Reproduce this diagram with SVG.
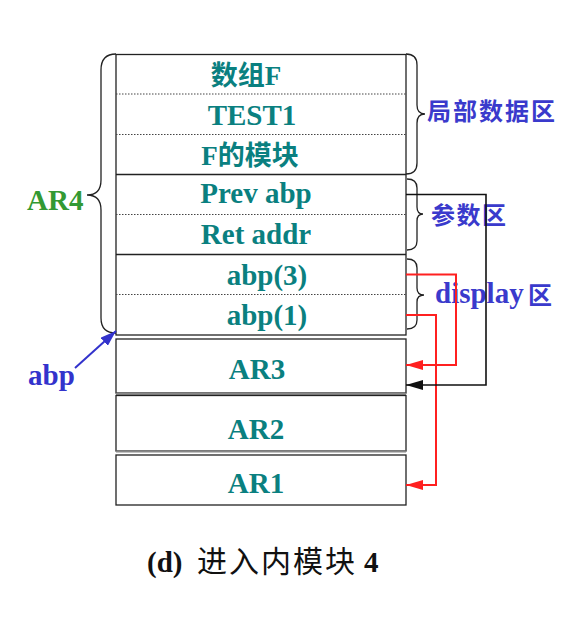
<svg xmlns="http://www.w3.org/2000/svg" width="573" height="627" viewBox="0 0 573 627">
<style>
.cell{fill:#fff;stroke:#222;stroke-width:1.3}
.dot{stroke:#444;stroke-width:1;stroke-dasharray:1.5,1.5;fill:none}
.sep{stroke:#222;stroke-width:1.3}
.t{font-family:"Liberation Serif","Noto Sans CJK SC",serif;font-weight:bold;font-size:29px;fill:#0a8080;text-anchor:middle}
.tc{font-size:27px}
.brace{fill:none;stroke:#222;stroke-width:1.3}
.lbl{font-family:"Noto Sans CJK SC",sans-serif;font-weight:bold;font-size:24px;fill:#3a3acc}
.lat{font-family:"Liberation Serif","Noto Sans CJK SC",serif;font-weight:bold;font-size:29px}
.red{fill:none;stroke:#ff2020;stroke-width:2}
.blk{fill:none;stroke:#111;stroke-width:1.6}
</style>
<defs>
<marker id="ah-red" markerWidth="17" markerHeight="10" refX="17" refY="5" orient="auto" markerUnits="userSpaceOnUse"><path d="M0,0 L17,5 L0,10 Z" fill="#ff2020"/></marker>
<marker id="ah-blk" markerWidth="17" markerHeight="10" refX="17" refY="5" orient="auto" markerUnits="userSpaceOnUse"><path d="M0,0 L17,5 L0,10 Z" fill="#111"/></marker>
<marker id="ah-blue" markerWidth="16" markerHeight="11" refX="16" refY="5.5" orient="auto" markerUnits="userSpaceOnUse"><path d="M0,0 L16,5.5 L0,11 Z" fill="#3333cc"/></marker>
</defs>

<g id="AR4">
<rect class="cell" x="116" y="54.5" width="290" height="280.5"/>
<line class="dot" x1="116" y1="94" x2="406" y2="94"/>
<line class="dot" x1="116" y1="134.5" x2="406" y2="134.5"/>
<line class="sep" x1="116" y1="174.5" x2="406" y2="174.5"/>
<line class="dot" x1="116" y1="214.5" x2="406" y2="214.5"/>
<line class="sep" x1="116" y1="254.5" x2="406" y2="254.5"/>
<line class="dot" x1="116" y1="294.5" x2="406" y2="294.5"/>
<text class="t tc" x="246" y="85">数组F</text>
<text class="t" x="252" y="125">TEST1</text>
<text class="t tc" x="250" y="165">F的模块</text>
<text class="t" x="256" y="203">Prev abp</text>
<text class="t" x="256" y="244">Ret addr</text>
<text class="t" x="267" y="285">abp(3)</text>
<text class="t" x="267" y="325">abp(1)</text>
</g>

<g id="AR3">
<rect class="cell" x="116" y="339" width="290" height="54"/>
<text class="t" x="257" y="379">AR3</text>
</g>
<line x1="116" y1="394" x2="406" y2="394" stroke="#888" stroke-width="2.5"/>
<g id="AR2">
<rect class="cell" x="116" y="395.5" width="290" height="55.5"/>
<text class="t" x="256" y="439">AR2</text>
</g>
<line x1="116" y1="451.5" x2="406" y2="451.5" stroke="#888" stroke-width="2"/>
<g id="AR1">
<rect class="cell" x="116" y="455" width="290" height="50"/>
<text class="t" x="256" y="493">AR1</text>
</g>

<g id="brace-AR4">
<path class="brace" d="M116,54 Q101,54 101,70 L101,180 Q101,195 87,195 Q101,195 101,210 L101,318 Q101,333 116,333"/>
<text class="lat" x="27" y="210" fill="#339933">AR4</text>
</g>

<g id="brace-local">
<path class="brace" d="M406,54 Q417,54 417,65 L417,105 Q417,114 425,114 Q417,114 417,123 L417,163 Q417,174 406,174"/>
<text class="lbl" x="427" y="120" letter-spacing="2">局部数据区</text>
</g>

<g id="brace-param">
<path class="brace" d="M407,179 Q417,179 417,188 L417,207 Q417,214 423,214 Q417,214 417,221 L417,241 Q417,250 407,250"/>
<text class="lbl" x="431" y="224" letter-spacing="1.5">参数区</text>
</g>

<g id="brace-display">
<path class="brace" d="M407,259 Q417,259 417,268 L417,288 Q417,295 424,295 Q417,295 417,302 L417,320 Q417,329 407,329"/>
<text x="435" y="303" fill="#3a3acc"><tspan class="lat">display</tspan><tspan class="lbl" x="528" y="304">区</tspan></text>
</g>

<g id="abp-label">
<text class="lat" x="28" y="385" fill="#3333cc">abp</text>
</g>

<g id="connectors">
<polyline class="red" points="406,274.5 456,274.5 456,365 406,365" marker-end="url(#ah-red)"/>
<polyline class="red" points="406,315 436,315 436,485 406,485" marker-end="url(#ah-red)"/>
<polyline class="blk" points="406,194.5 486,194.5 486,385 406,385" marker-end="url(#ah-blk)"/>
<line x1="75" y1="368" x2="116" y2="331" stroke="#3333cc" stroke-width="2" marker-end="url(#ah-blue)"/>
</g>

<g id="caption" font-family="Liberation Serif, Noto Sans CJK SC, serif" font-weight="bold" fill="#111">
<text x="147" y="572" font-size="29">(d)</text>
<text x="197" y="572" font-size="30" letter-spacing="2" font-family="Noto Sans CJK SC, sans-serif" font-weight="normal">进入内模块</text>
<text x="364" y="572" font-size="29">4</text>
</g>
</svg>
